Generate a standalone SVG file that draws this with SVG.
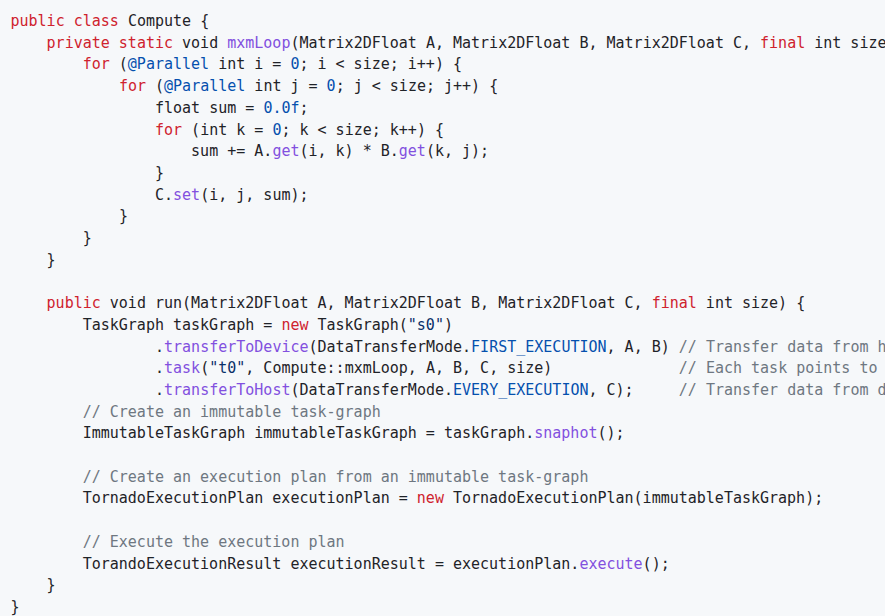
<svg xmlns="http://www.w3.org/2000/svg" width="885" height="616" viewBox="0 0 885 616" xml:space="preserve">
<style>
text{font-family:"DejaVu Sans Mono","Liberation Mono",monospace;font-size:15px;fill:#1f2328;white-space:pre}
.k{fill:#cf222e}.f{fill:#8250df}.c{fill:#0550ae}.s{fill:#0a3069}.m{fill:#6e7781}
</style>
<rect width="885" height="616" fill="#f6f8fa"/>
<g id="code">
<text x="10.5" y="26"><tspan class="k">public class</tspan> Compute {</text>
<text x="46.6" y="47.7"><tspan class="k">private static</tspan> void <tspan class="f">mxmLoop</tspan>(Matrix2DFloat A, Matrix2DFloat B, Matrix2DFloat C, <tspan class="k">final</tspan> int size</text>
<text x="82.7" y="69.4"><tspan class="k">for</tspan> (<tspan class="c">@Parallel</tspan> int i = <tspan class="c">0</tspan>; i &lt; size; i++) {</text>
<text x="118.9" y="91.1"><tspan class="k">for</tspan> (<tspan class="c">@Parallel</tspan> int j = <tspan class="c">0</tspan>; j &lt; size; j++) {</text>
<text x="155" y="112.8">float sum = <tspan class="c">0.0f</tspan>;</text>
<text x="155" y="134.5"><tspan class="k">for</tspan> (int k = <tspan class="c">0</tspan>; k &lt; size; k++) {</text>
<text x="191.1" y="156.2">sum += A.<tspan class="f">get</tspan>(i, k) * B.<tspan class="f">get</tspan>(k, j);</text>
<text x="155" y="177.9">}</text>
<text x="155" y="199.6">C.<tspan class="f">set</tspan>(i, j, sum);</text>
<text x="118.9" y="221.3">}</text>
<text x="82.7" y="243">}</text>
<text x="46.6" y="264.7">}</text>
<text x="46.6" y="308.1"><tspan class="k">public</tspan> void run(Matrix2DFloat A, Matrix2DFloat B, Matrix2DFloat C, <tspan class="k">final</tspan> int size) {</text>
<text x="82.7" y="329.8">TaskGraph taskGraph = <tspan class="k">new</tspan> TaskGraph(<tspan class="s">"s0"</tspan>)</text>
<text x="155" y="351.5">.<tspan class="f">transferToDevice</tspan>(DataTransferMode.<tspan class="c">FIRST_EXECUTION</tspan>, A, B) <tspan class="m">// Transfer data from h</tspan></text>
<text x="155" y="373.2">.<tspan class="f">task</tspan>(<tspan class="s">"t0"</tspan>, Compute::mxmLoop, A, B, C, size)              <tspan class="m">// Each task points to</tspan></text>
<text x="155" y="394.9">.<tspan class="f">transferToHost</tspan>(DataTransferMode.<tspan class="c">EVERY_EXECUTION</tspan>, C);     <tspan class="m">// Transfer data from d</tspan></text>
<text x="82.7" y="416.6" class="m">// Create an immutable task-graph</text>
<text x="82.7" y="438.3">ImmutableTaskGraph immutableTaskGraph = taskGraph.<tspan class="f">snaphot</tspan>();</text>
<text x="82.7" y="481.7" class="m">// Create an execution plan from an immutable task-graph</text>
<text x="82.7" y="503.4">TornadoExecutionPlan executionPlan = <tspan class="k">new</tspan> TornadoExecutionPlan(immutableTaskGraph);</text>
<text x="82.7" y="546.8" class="m">// Execute the execution plan</text>
<text x="82.7" y="568.5">TorandoExecutionResult executionResult = executionPlan.<tspan class="f">execute</tspan>();</text>
<text x="46.6" y="590.2">}</text>
<text x="10.5" y="611.9">}</text>
</g>
</svg>
